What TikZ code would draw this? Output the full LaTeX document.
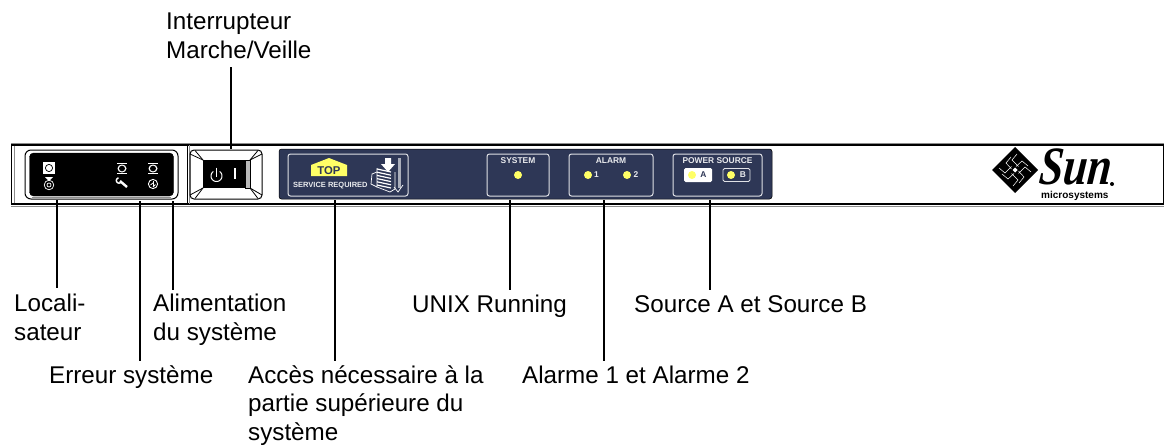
\documentclass[tikz,border=0pt]{standalone}
\usepackage{fontspec}
\setmainfont{Liberation Sans}
\newfontfamily\logofont[BoldItalicFeatures={FakeSlant=0.12}]{Liberation Serif}
\usetikzlibrary{calc}
\definecolor{panelblue}{HTML}{2E3756}
\definecolor{ledyellow}{HTML}{FFFF66}
\definecolor{rimgray}{HTML}{8C8C8C}
\tikzset{
  x=1pt,y=-1pt,
  callout/.style={anchor=base west,inner sep=0pt,font=\fontsize{24.2}{28.5}\selectfont,align=left},
  leader/.style={draw=black,line width=2pt},
  minibox/.style={draw=white!85!panelblue,line width=1pt,rounded corners=2.5pt},
  led/.style={circle,fill=ledyellow,draw=none,minimum size=8pt,inner sep=0pt},
  paneltext/.style={text=white!90!panelblue,inner sep=0pt,font=\fontsize{8.4}{9}\selectfont\bfseries},
  iconw/.style={draw=white,line width=1pt},
  dispw/.style={draw=white,line width=.9pt},
}
\begin{document}
\begin{tikzpicture}
\useasboundingbox (0,0) rectangle (1169,447);
% chassis
\draw[rimgray,line width=1pt] (11,143) -- (1164,143);
\draw[rimgray,line width=1pt] (11,206) -- (1164,206);
\node[draw=black,line width=1.6pt,minimum width=1152pt,minimum height=59pt,inner sep=0pt] (chassis) at (587.5,174.5) {};
\draw[rimgray,line width=1pt] (14,146) -- (14,203);
\draw[black,line width=.7pt] (187,145) -- (187,204);
\draw[rimgray,line width=.7pt] (189,145) -- (189,204);
% indicator display
\node[draw=black,line width=1pt,rounded corners=6pt,minimum width=153pt,minimum height=49pt,inner sep=0pt] (display) at (101.5,174.5) {};
\node[draw=black,fill=black,rounded corners=4pt,minimum width=144pt,minimum height=43pt,inner sep=0pt] (screen) at (101.5,174.5) {};
\draw[rimgray,line width=1.4pt] (32,197.4) -- (171,197.4);
\node[fill=white,minimum size=12pt,inner sep=0pt] (locbox) at (49,168) {};
\draw[black,line width=.7pt] (49,168) circle (3.6);
\fill[white] (45,177) -- (53,177) -- (49,181) -- cycle;
\draw[dispw,line width=.7pt] (49,185) circle (2);
\draw[dispw,line width=.7pt] (49,185) circle (4.8);
\foreach \cx in {122,153}{
  \draw[white,line width=1pt] (\cx-5,163.5) -- (\cx+5,163.5) (\cx-5,173.5) -- (\cx+5,173.5);
  \fill[white] (\cx,168.5) ellipse (4.5 and 4);
  \fill[black] (\cx,168.5) ellipse (3 and 2.8);
}
% wrench
\draw[white,line width=2.4pt] (120,181) -- (127,187);
\draw[white,line width=1.5pt] plot[domain=100:320,samples=16] ({119+2.6*cos(\x)},{180.5-2.6*sin(\x)});
% power icon
\draw[dispw] (153,184) circle (4.6);
\draw[white,line width=.8pt] (153,181) -- (153,187);
\draw[white,line width=.8pt] (150.5,185) -- (153,183) (153,187) -- (155.5,184.5);
% switch
\node[draw=black,line width=1pt,rounded corners=4pt,minimum width=72pt,minimum height=49pt,inner sep=0pt] (bezel) at (226,174.5) {};
\node[fill=black,minimum width=42pt,minimum height=28pt,inner sep=0pt] (rocker) at (224,174) {};
\fill[gray!55] (245,160) rectangle (250,188);
\draw[black,line width=.6pt] (245,160) rectangle (250,188);
\draw[black,line width=.8pt] (203,160) -- (195,150.5) (250,160) -- (258,150.5) (203,188) -- (195,198.5) (250,188) -- (258,198.5);
\draw[black,line width=.8pt] (203,160) -- (190,154) (250,160) -- (262,154) (203,188) -- (190,195) (250,188) -- (262,195);
\draw[white,line width=1pt] plot[domain=-55:235,samples=30] ({216.5+5.5*cos(\x)},{176+5.5*sin(\x)});
\draw[white,line width=1pt] (216.5,167.5) -- (216.5,177);
\draw[white,line width=1.6pt] (234.8,168) -- (234.8,179);
% blue panel
\node[fill=panelblue,draw=black,line width=.5pt,rounded corners=2.5pt,minimum width=493pt,minimum height=50pt,inner sep=0pt] (panel) at (525.5,174) {};
\node[minibox,minimum width=120pt,minimum height=42pt,inner sep=0pt] (topbox) at (348,175) {};
\node[minibox,minimum width=62pt,minimum height=42pt,inner sep=0pt] (sysbox) at (518,175) {};
\node[minibox,minimum width=84pt,minimum height=42pt,inner sep=0pt] (alarmbox) at (611,175) {};
\node[minibox,minimum width=89pt,minimum height=42pt,inner sep=0pt] (powerbox) at (717.5,175) {};
% top service
\fill[ledyellow] (311,176) -- (311,165) -- (329,158) -- (347,165) -- (347,176) -- cycle;
\node[inner sep=0pt,text=panelblue,font=\fontsize{11.3}{12}\selectfont\bfseries] (toplabel) at (329,170.5) {TOP};
\node[paneltext,anchor=base west,font=\fontsize{7.5}{8}\selectfont\bfseries] (servicelabel) at (293,187.5) {SERVICE REQUIRED};
% server icon
\fill[white] (385,158) -- (391,158) -- (391,164) -- (395,164) -- (388,172) -- (381,164) -- (385,164) -- cycle;
\fill[white!60!panelblue] (398,158) rectangle (400.5,188);
\foreach \i in {0,...,5}{
  \draw[white,line width=1.2pt] (377,{169+\i*3.2}) -- (391,{172+\i*3.2});
}
\draw[iconw,line width=.7pt] (377,168) -- (377,187) -- (390,192) -- (395,189) -- (395,172);
\draw[iconw,line width=.7pt] (377,172) -- (372,174) -- (371,184) -- (377,187);
\draw[iconw,line width=.7pt] (394,187) -- (398,192) -- (403,185);
% system
\node[paneltext] (systemlabel) at (518,161) {SYSTEM};
\node[led] (sysled) at (518,175) {};
% alarm
\node[paneltext] (alarmlabel) at (611,161) {ALARM};
\node[led] (led1) at (588,175) {};
\node[led] (led2) at (627,175) {};
\node[paneltext] (one) at (596.5,175) {1};
\node[paneltext] (two) at (636,175) {2};
% power source
\node[paneltext] (powerlabel) at (717.5,161) {POWER SOURCE};
\node[fill=white,rounded corners=1.5pt,minimum width=28pt,minimum height=14pt,inner sep=0pt] (abox) at (698,175) {};
\node[draw=white!85!panelblue,line width=.8pt,rounded corners=1.5pt,minimum width=27pt,minimum height=13pt,inner sep=0pt] (bbox) at (736.5,175) {};
\node[led] (leda) at (692,175) {};
\node[led] (ledb) at (731,175) {};
\node[inner sep=0pt,text=panelblue,font=\fontsize{8.4}{9}\selectfont\bfseries] (alabel) at (703.5,175) {A};
\node[paneltext] (blabel) at (743,175) {B};
% logo
\begin{scope}[shift={(1015,170)}]
  \fill[black] (-23,0) -- (0,-23) -- (23,0) -- (0,23) -- cycle;
  \fill[white] (-2.5,0) -- (0,-2.5) -- (2.5,0) -- (0,2.5) -- cycle;
  \foreach \a in {0,90,180,270}{
    \begin{scope}[rotate=\a]
      \draw[white,line width=.5pt] (-3.5,-1) -- (-9,-7) -- (-4,-13);
      \draw[white,line width=.5pt] (3.5,-3.5) -- (-3,-10) -- (2,-16);
    \end{scope}
  }
\end{scope}
\node[inner sep=0pt,anchor=base west,font=\logofont\itshape\bfseries\fontsize{54}{54}\selectfont] (sunlogo) at (1038,184) {\scalebox{.8}[1]{Sun}};
\fill[black] (1112,184) circle (2);
\node[inner sep=0pt,anchor=base west,font=\fontsize{10}{11}\selectfont\bfseries] (microlabel) at (1041,198.5) {microsystems};
% callouts
\node[callout] (lswitch) at (166,58) {Interrupteur\\Marche/Veille};
\node[callout] (lloc) at (14,340) {Locali-\\sateur};
\node[callout] (lalim) at (153,340) {Alimentation\\du système};
\node[callout] (lunix) at (412,312) {UNIX Running};
\node[callout] (lsrc) at (634,312) {Source A et Source B};
\node[callout] (lerr) at (49,383) {Erreur système};
\node[callout] (lacc) at (248,440) {Accès nécessaire à la\\partie supérieure du\\système};
\node[callout] (lalarm) at (522,383) {Alarme 1 et Alarme 2};
% leader ends
\coordinate (eswitch) at (231,67);  \coordinate (sswitch) at (231,149);
\coordinate (sloc) at (57,200);     \coordinate (eloc) at (57,288);
\coordinate (serr) at (140,201);    \coordinate (eerr) at (140,361);
\coordinate (salim) at (173,201);   \coordinate (ealim) at (173,290);
\coordinate (sacc) at (335,200);    \coordinate (eacc) at (335,361);
\coordinate (ssys) at (510,200);    \coordinate (esys) at (510,290);
\coordinate (sala) at (604,200);    \coordinate (eala) at (604,361);
\coordinate (spow) at (710,200);    \coordinate (epow) at (710,290);
\foreach \a/\b in {eswitch/sswitch,sloc/eloc,serr/eerr,salim/ealim,sacc/eacc,ssys/esys,sala/eala,spow/epow}{
  \draw[leader] (\a) -- (\b);
}
\end{tikzpicture}
\end{document}
